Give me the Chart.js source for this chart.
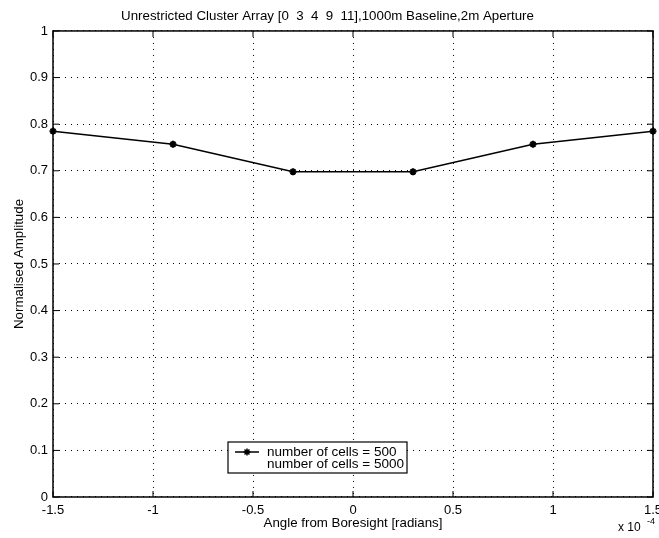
<!DOCTYPE html>
<html>
<head>
<meta charset="utf-8">
<script src="https://cdn.jsdelivr.net/npm/chart.js@4.4.1/dist/chart.umd.min.js"></script>
<style>
  html, body { margin: 0; padding: 0; background: #fff; }
  #wrap { width: 659px; height: 538px; }
</style>
</head>
<body>
<div id="wrap"><canvas id="ampChart" width="659" height="538"></canvas></div>
<script>
// angle from boresight, in units of 1e-4 rad
const angles = [-1.5, -0.9, -0.3, 0.3, 0.9, 1.5];
const amp500 = [0.785, 0.757, 0.698, 0.698, 0.757, 0.785];
const amp5000 = [];   // not visible in the original plot
const seriesLabels = ['number of cells = 500', 'number of cells = 5000'];
const xTicks = [-1.5, -1, -0.5, 0, 0.5, 1, 1.5];
const yTicks = [0, 0.1, 0.2, 0.3, 0.4, 0.5, 0.6, 0.7, 0.8, 0.9, 1];

const FONT = '"Liberation Sans", Arial, Helvetica, sans-serif';

function toPoints(xs, ys) {
    return ys.map((y, i) => ({ x: xs[i], y: y }));
}

// frame, inward tick marks, legend box and the x 10^-4 exponent
const matlabBits = {
    id: 'matlabBits',
    afterDraw(chart) {
        const ctx = chart.ctx;
        const a = chart.chartArea;
        const xs = chart.scales.x, ys = chart.scales.y;
        ctx.save();
        ctx.setLineDash([]);
        ctx.strokeStyle = '#000';
        ctx.lineWidth = 1.5;
        ctx.strokeRect(a.left, a.top, a.right - a.left, a.bottom - a.top);

        ctx.lineWidth = 1;
        ctx.beginPath();
        xTicks.forEach(v => {
            const px = xs.getPixelForValue(v);
            ctx.moveTo(px, a.bottom); ctx.lineTo(px, a.bottom - 6);
            ctx.moveTo(px, a.top); ctx.lineTo(px, a.top + 6);
        });
        yTicks.forEach(v => {
            const py = ys.getPixelForValue(v);
            ctx.moveTo(a.left, py); ctx.lineTo(a.left + 6, py);
            ctx.moveTo(a.right, py); ctx.lineTo(a.right - 6, py);
        });
        ctx.stroke();

        // legend
        const lx = 228, ly = 442, lw = 179, lh = 31;
        ctx.fillStyle = '#fff';
        ctx.fillRect(lx, ly, lw, lh);
        ctx.lineWidth = 1.2;
        ctx.strokeRect(lx, ly, lw, lh);
        ctx.beginPath();
        ctx.lineWidth = 1.5;
        ctx.moveTo(lx + 7, ly + 10);
        ctx.lineTo(lx + 31, ly + 10);
        ctx.stroke();
        Chart.helpers.drawPoint(ctx, {
            pointStyle: 'star', radius: 3.5, borderWidth: 2, rotation: 0
        }, lx + 19, ly + 10);
        ctx.fillStyle = '#000';
        ctx.font = '13.5px ' + FONT;
        ctx.textBaseline = 'middle';
        ctx.textAlign = 'left';
        ctx.fillText(seriesLabels[0], lx + 39, ly + 10);
        ctx.fillText(seriesLabels[1], lx + 39, ly + 22);

        // exponent label
        ctx.font = '12px ' + FONT;
        ctx.fillText('x 10', 618, 528);
        ctx.font = '9px ' + FONT;
        ctx.fillText('-4', 647, 522);
        ctx.restore();
    }
};

new Chart(document.getElementById('ampChart'), {
    type: 'line',
    data: {
        datasets: [{
            label: seriesLabels[0],
            data: toPoints(angles, amp500),
            borderColor: '#000',
            backgroundColor: '#000',
            borderWidth: 1.5,
            pointStyle: 'star',
            pointRadius: 3.5,
            pointBorderWidth: 2,
            pointBorderColor: '#000',
            tension: 0,
            clip: false
        }, {
            label: seriesLabels[1],
            data: toPoints(angles, amp5000),
            borderColor: 'rgba(0,0,0,0)',
            pointRadius: 0
        }]
    },
    plugins: [matlabBits],
    options: {
        responsive: false,
        animation: false,
        events: [],
        layout: { padding: { left: 0, right: 4, top: 0, bottom: 0 } },
        plugins: {
            legend: { display: false },
            tooltip: { enabled: false },
            title: {
                display: true,
                text: 'Unrestricted Cluster Array [0  3  4  9  11],1000m Baseline,2m Aperture',
                color: '#000',
                font: { family: FONT, size: 13.3, weight: 'normal' },
                padding: { top: 8, bottom: 7 }
            }
        },
        scales: {
            x: {
                type: 'linear',
                min: -1.5,
                max: 1.5,
                afterBuildTicks: s => { s.ticks = xTicks.map(v => ({ value: v })); },
                afterFit: s => { s.height = 41; s.paddingLeft = 0; s.paddingRight = 0; },
                ticks: {
                    color: '#000',
                    padding: 6,
                    maxRotation: 0,
                    font: { family: FONT, size: 13 },
                    callback: v => String(v)
                },
                grid: { color: '#000', lineWidth: 1, drawTicks: false },
                border: { display: false, dash: [1, 5] },
                title: {
                    display: true,
                    text: 'Angle from Boresight [radians]',
                    color: '#000',
                    font: { family: FONT, size: 13.3 },
                    padding: { top: 0, bottom: 7 }
                }
            },
            y: {
                min: 0,
                max: 1,
                afterBuildTicks: s => { s.ticks = yTicks.map(v => ({ value: v })); },
                afterFit: s => { s.width = 53; s.paddingTop = 0; s.paddingBottom = 0; },
                ticks: {
                    color: '#000',
                    padding: 5,
                    font: { family: FONT, size: 13 },
                    callback: v => String(Number(v.toFixed(1)))
                },
                grid: { color: '#000', lineWidth: 1, drawTicks: false },
                border: { display: false, dash: [1, 5] },
                title: {
                    display: true,
                    text: 'Normalised Amplitude',
                    color: '#000',
                    font: { family: FONT, size: 13.3 },
                    padding: { top: 11, bottom: 0 }
                }
            }
        }
    }
});
</script>
</body>
</html>
